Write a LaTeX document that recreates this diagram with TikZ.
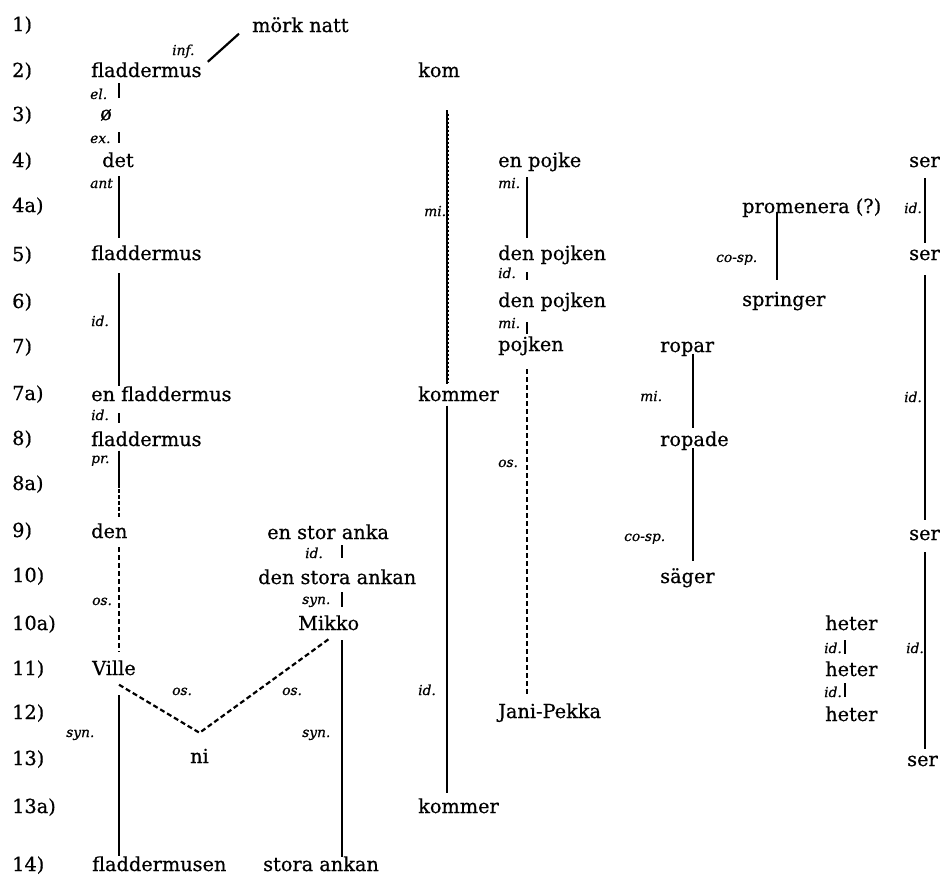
\documentclass[tikz,border=0pt]{standalone}
\usepackage{fontspec}
\setmainfont{DejaVu Serif}[FakeBold=0.6]
\begin{document}
\begin{tikzpicture}[x=1pt,y=-1pt,
  word/.style={inner sep=0pt, anchor=base west, text height=15pt, text depth=4.5pt,
               font=\fontsize{19.3}{22}\selectfont},
  lbl/.style={inner sep=0pt, anchor=base west, font=\fontsize{13.8}{15}\selectfont\itshape},
  rel/.style={line width=2.2pt},
  osrel/.style={line width=2.2pt, dash pattern=on 5pt off 3pt},
]
\useasboundingbox (0,0) rectangle (940,878);

% line numbers
\foreach \lab/\y in {1/31, 2/77, 3/121, 4/167, 4a/212, 5/261, 6/308, 7/353, 7a/400,
                     8/445, 8a/490, 9/537, 10/582, 10a/630, 11/675, 12/719, 13/765,
                     13a/813, 14/871}
  \node[word] (r\lab) at (12,\y) {\lab)};

% columns of the chains
\coordinate (cA) at (119,0);
\coordinate (cC) at (342,0);
\coordinate (cK) at (447,0);
\coordinate (cP) at (527,0);
\coordinate (cR) at (693,0);
\coordinate (cPr) at (777,0);
\coordinate (cS) at (925,0);
\coordinate (cH) at (845,0);

% words
\node[word] (mn)   at (252,32)  {mörk natt};
\node[word] (fl2)  at (91,77)   {fladdermus};
\node[word] (kom)  at (418,77)  {kom};
\node[word] (z3)   at (100,120) {ø};
\node[word] (det4) at (102,167) {det};
\node[word] (pj4)  at (498,167) {en pojke};
\node[word] (ser4) at (909,167) {ser};
\node[word] (prom) at (742,213) {promenera (?)};
\node[word] (fl5)  at (91,260)  {fladdermus};
\node[word] (dp5)  at (498,260) {den pojken};
\node[word] (ser5) at (909,260) {ser};
\node[word] (dp6)  at (498,307) {den pojken};
\node[word] (spr)  at (742,306) {springer};
\node[word] (pk7)  at (498,351) {pojken};
\node[word] (rop7) at (660,352) {ropar};
\node[word] (efl)  at (91,401)  {en fladdermus};
\node[word] (km7)  at (418,401) {kommer};
\node[word] (fl8)  at (91,446)  {fladdermus};
\node[word] (rpd)  at (660,446) {ropade};
\node[word] (den9) at (91,538)  {den};
\node[word] (esa)  at (267,539) {en stor anka};
\node[word] (ser9) at (909,540) {ser};
\node[word] (dsa)  at (258,584) {den stora ankan};
\node[word] (sag)  at (660,583) {säger};
\node[word] (mik)  at (298,630) {Mikko};
\node[word] (het1) at (825,630) {heter};
\node[word] (vil)  at (92,675)  {Ville};
\node[word] (het2) at (825,676) {heter};
\node[word] (jp)   at (498,718) {Jani-Pekka};
\node[word] (het3) at (825,721) {heter};
\node[word] (ni)   at (190,763) {ni};
\node[word] (ser13) at (907,766) {ser};
\node[word] (km13) at (418,813) {kommer};
\node[word] (flm)  at (92,871)  {fladdermusen};
\node[word] (sa)   at (263,871) {stora ankan};

% relation labels
\node[lbl] (l1)  at (172,55)  {inf.};
\node[lbl] (l2)  at (90,99)   {el.};
\node[lbl] (l3)  at (90,143)  {ex.};
\node[lbl] (l4)  at (90,188)  {ant};
\node[lbl] (l5)  at (91,326)  {id.};
\node[lbl] (l6)  at (91,420)  {id.};
\node[lbl] (l7)  at (91,463)  {pr.};
\node[lbl] (l8)  at (92,605)  {os.};
\node[lbl] (l9)  at (172,695) {os.};
\node[lbl] (l10) at (282,695) {os.};
\node[lbl] (l11) at (66,737)  {syn.};
\node[lbl] (l12) at (305,558) {id.};
\node[lbl] (l13) at (302,604) {syn.};
\node[lbl] (l14) at (302,737) {syn.};
\node[lbl] (l15) at (424,216) {mi.};
\node[lbl] (l16) at (418,695) {id.};
\node[lbl] (l17) at (498,188) {mi.};
\node[lbl] (l18) at (498,278) {id.};
\node[lbl] (l19) at (498,328) {mi.};
\node[lbl] (l20) at (498,467) {os.};
\node[lbl] (l21) at (640,401) {mi.};
\node[lbl] (l22) at (624,541) {co-sp.};
\node[lbl] (l23) at (716,262) {co-sp.};
\node[lbl] (l24) at (904,213) {id.};
\node[lbl] (l25) at (904,402) {id.};
\node[lbl] (l26) at (906,653) {id.};
\node[lbl] (l27) at (824,653) {id.};
\node[lbl] (l28) at (824,697) {id.};

% chain: fladdermus ... fladdermusen
\draw[rel] ([xshift=6pt]fl2.north east) -- ([xshift=-13pt,yshift=3pt]mn.south west);
\draw[rel, shorten <=1.5pt, shorten >=7pt] (fl2.south -| cA) -- (z3.north -| cA);
\draw[rel, shorten <=7.5pt, shorten >=9pt] (z3.south -| cA) -- (det4.north -| cA);
\draw[rel, shorten <=4.5pt, shorten >=7pt] (det4.south -| cA) -- (fl5.north -| cA);
\draw[rel, shorten <=8.5pt, shorten >=0pt] (fl5.south -| cA) -- (efl.north -| cA);
\draw[rel, shorten <=7.5pt, shorten >=8pt] (efl.south -| cA) -- (fl8.north -| cA);
\draw[rel, shorten <=0pt, shorten >=35pt] (fl8.south -| cA) -- (den9.north -| cA);
\draw[rel, dash pattern=on 4pt off 2pt, shorten <=38pt, shorten >=6pt] (fl8.south -| cA) -- (den9.north -| cA);
\draw[osrel, shorten <=4.5pt, shorten >=8pt] (den9.south -| cA) -- (vil.north -| cA);
\draw[osrel] ([yshift=-5pt]vil.south -| cA) -- ([yshift=15pt]ni.north) -- ([xshift=2pt,yshift=-3pt]mik.south);
\draw[rel, shorten <=15.5pt, shorten >=0pt] (vil.south -| cA) -- (flm.north -| cA);

% chain: en stor anka ... stora ankan
\draw[rel, shorten <=1.5pt, shorten >=11pt] (esa.south -| cC) -- (dsa.north -| cC);
\draw[rel, shorten <=3.5pt, shorten >=8pt] (dsa.south -| cC) -- (mik.north -| cC);
\draw[rel, shorten <=5.5pt, shorten >=-1pt] (mik.south -| cC) -- (sa.north -| cC);

% chain: kom ... kommer
\draw[rel, shorten <=28.5pt, shorten >=2pt] (kom.south -| cK) -- (km7.north -| cK);
\draw[line width=0.8pt, dash pattern=on 2pt off 2pt, shorten <=32pt, shorten >=4pt]
  ([xshift=1.8pt]kom.south -| cK) -- ([xshift=1.8pt]km7.north -| cK);
\draw[rel, shorten <=0pt, shorten >=5pt] (km7.south -| cK) -- (km13.north -| cK);

% chain: en pojke ... Jani-Pekka
\draw[rel, shorten <=5.5pt, shorten >=7pt] (pj4.south -| cP) -- (dp5.north -| cP);
\draw[rel, shorten <=7.5pt, shorten >=12pt] (dp5.south -| cP) -- (dp6.north -| cP);
\draw[rel, shorten <=10.5pt, shorten >=2pt] (dp6.south -| cP) -- (pk7.north -| cP);
\draw[osrel, shorten <=13.5pt, shorten >=6pt] (pk7.south -| cP) -- (jp.north -| cP);

% chain: ropar ... säger
\draw[rel, shorten <=-3pt, shorten >=3pt] (rop7.south -| cR) -- (rpd.north -| cR);
\draw[rel, shorten <=-2.5pt, shorten >=7pt] (rpd.south -| cR) -- (sag.north -| cR);

% chain: promenera ... springer
\draw[rel, shorten <=-4.5pt, shorten >=11pt] (prom.south -| cPr) -- (spr.north -| cPr);

% chain: ser ... ser
\draw[rel, shorten <=6.5pt, shorten >=2pt] (ser4.south -| cS) -- (ser5.north -| cS);
\draw[rel, shorten <=10.5pt, shorten >=5pt] (ser5.south -| cS) -- (ser9.north -| cS);
\draw[rel, shorten <=7.5pt, shorten >=2pt] (ser9.south -| cS) -- (ser13.north -| cS);

% chain: heter ... heter
\draw[rel, line width=1.6pt, shorten <=5.5pt, shorten >=7pt] (het1.south -| cH) -- (het2.north -| cH);
\draw[rel, line width=1.6pt, shorten <=2.5pt, shorten >=9pt] (het2.south -| cH) -- (het3.north -| cH);
\end{tikzpicture}
\end{document}
